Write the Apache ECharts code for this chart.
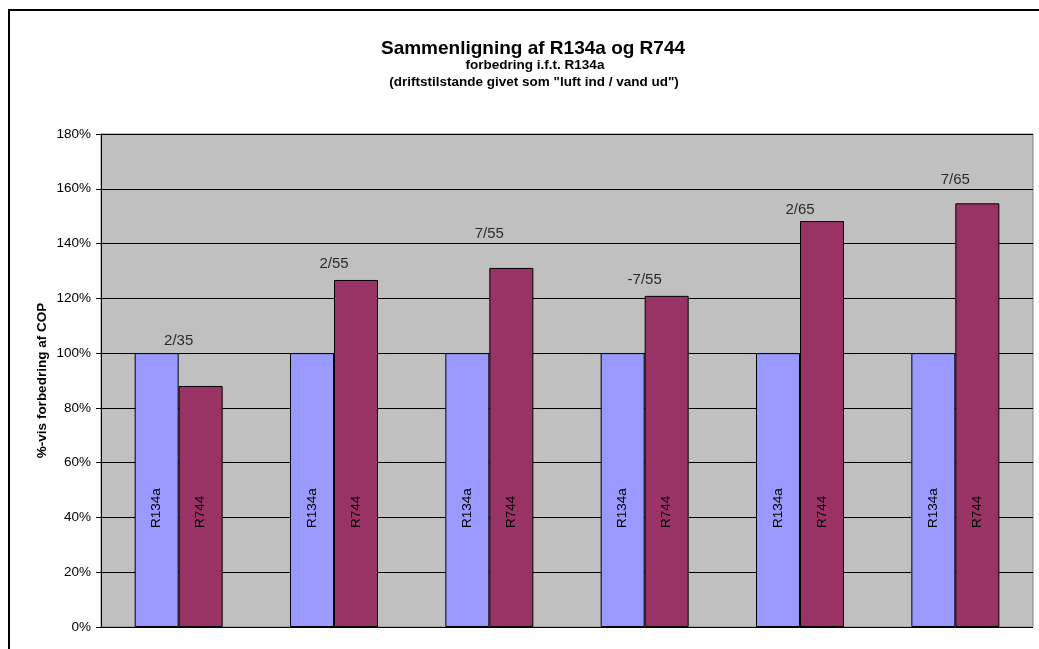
<!DOCTYPE html>
<html>
<head>
<meta charset="utf-8">
<title>Sammenligning af R134a og R744</title>
<script src="https://cdn.jsdelivr.net/npm/echarts@6/dist/echarts.min.js"></script>
<style>
  html, body { margin: 0; padding: 0; background: #ffffff; }
  #chart { width: 1039px; height: 649px; }
</style>
</head>
<body>
<div id="chart"></div>
<script>
// Operating points ("luft ind / vand ud")
const categories = ['2/35', '2/55', '7/55', '-7/55', '2/65', '7/65'];
// COP relative to R134a, in percent
const r134a = [100, 100, 100, 100, 100, 100];
const r744 = [88, 126.7, 131.1, 120.9, 148.2, 154.7];
// Height at which each operating-point caption sits, in percent
const captionLevel = [104.5, 132.5, 143.5, 126.8, 152.4, 163.2];
const yTicks = { min: 0, max: 180, interval: 20 };

const font = '"Liberation Sans", Arial, sans-serif';

const chart = echarts.init(document.getElementById('chart'), null, { renderer: 'canvas' });

const insideLabel = {
  show: true,
  position: 'insideBottom',
  distance: 99,
  rotate: 90,
  align: 'left',
  verticalAlign: 'middle',
  fontFamily: font,
  fontSize: 13.5,
  color: '#000000',
  formatter: p => p.seriesName
};

chart.setOption({
  animation: false,
  backgroundColor: '#ffffff',
  textStyle: { fontFamily: font },
  title: [
    {
      text: 'Sammenligning af R134a og R744',
      left: 528, top: 34, textAlign: 'center',
      textStyle: { fontFamily: font, fontSize: 19, fontWeight: 'bold', color: '#000' }
    },
    {
      text: 'forbedring i.f.t. R134a',
      left: 530, top: 53, textAlign: 'center',
      textStyle: { fontFamily: font, fontSize: 13.5, fontWeight: 'bold', color: '#000' }
    },
    {
      text: '(driftstilstande givet som "luft ind / vand ud")',
      left: 529, top: 70, textAlign: 'center',
      textStyle: { fontFamily: font, fontSize: 13.5, fontWeight: 'bold', color: '#000' }
    }
  ],
  graphic: [
    {
      type: 'rect',
      silent: true,
      z: 100,
      shape: { x: 9, y: 10, width: 1200, height: 800 },
      style: { fill: 'none', stroke: '#000000', lineWidth: 2 }
    }
  ],
  grid: {
    left: 101, top: 134, right: 6, bottom: 22,
    show: true,
    backgroundColor: '#c0c0c0',
    borderColor: '#808080',
    borderWidth: 1
  },
  xAxis: {
    type: 'category',
    data: categories,
    axisLine: { show: false },
    axisTick: { show: false },
    axisLabel: { show: false },
    splitLine: { show: false }
  },
  yAxis: {
    type: 'value',
    min: yTicks.min, max: yTicks.max, interval: yTicks.interval,
    name: '%-vis forbedring af COP',
    nameLocation: 'middle',
    nameGap: 52,
    nameMoveOverlap: false,
    nameTextStyle: { fontFamily: font, fontSize: 13.5, fontWeight: 'bold', color: '#000' },
    axisLine: { show: true, lineStyle: { color: '#000', width: 1 } },
    axisTick: { show: true, length: 5, lineStyle: { color: '#000' } },
    axisLabel: {
      formatter: '{value}%',
      fontFamily: font, fontSize: 13.5, color: '#000', margin: 10
    },
    splitLine: { show: true, lineStyle: { color: '#000', width: 1 } }
  },
  series: [
    {
      name: 'R134a',
      type: 'bar',
      data: r134a,
      barWidth: 44,
      barGap: '0%',
      itemStyle: { color: '#9999ff', borderColor: '#000', borderWidth: 1 },
      label: insideLabel
    },
    {
      name: 'R744',
      type: 'bar',
      data: r744,
      barWidth: 44,
      barGap: '0%',
      itemStyle: { color: '#993366', borderColor: '#000', borderWidth: 1 },
      label: insideLabel
    },
    {
      name: 'driftstilstand',
      type: 'scatter',
      data: captionLevel,
      symbolSize: 1,
      itemStyle: { color: 'rgba(0,0,0,0)' },
      label: {
        show: true,
        position: 'inside',
        fontFamily: font, fontSize: 15, color: '#000',
        formatter: p => categories[p.dataIndex]
      },
      z: 5
    }
  ]
});
</script>
</body>
</html>
